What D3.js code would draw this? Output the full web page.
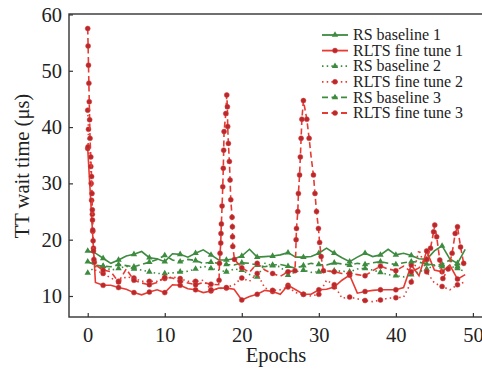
<!DOCTYPE html>
<html>
<head>
<meta charset="utf-8">
<script src="https://cdnjs.cloudflare.com/ajax/libs/d3/7.8.5/d3.min.js"></script>
<style>
    body { margin: 0; background: #fff; }
    text { font-family: "Liberation Serif", "Times New Roman", serif; fill: #222; }
</style>
</head>
<body>
<div id="chartDiv"></div>
<script>
// values, [epoch, wait time in us]
var rsBaseline1 = [[0,18.0],[1,17.6],[2,16.7],[3,15.8],[4,16.4],[5,17.1],[6,17.4],[7,17.9],[8,16.8],[9,16.6],
    [10,16.1],[11,17.5],[12,17.4],[13,16.9],[14,17.6],[15,18.2],[16,17.3],[17,16.4],[18,16.4],[19,16.6],
    [20,17.1],[21,18.3],[22,16.9],[23,17.0],[24,17.1],[25,17.3],[26,17.7],[27,16.9],[28,16.9],[29,17.0],
    [30,17.6],[31,18.5],[32,17.6],[33,16.8],[34,16.1],[35,16.9],[36,17.6],[37,17.0],[38,17.3],[39,18.3],
    [40,17.3],[41,17.6],[42,17.2],[43,16.6],[44,16.5],[45,18.0],[46,18.9],[47,16.6],[48,15.8],[49,18.3]];

var rltsFineTune1 = [[0,36.2],[1,12.4],[2,11.9],[3,11.9],[4,11.5],[5,11.2],[6,10.6],[7,10.2],[8,10.7],[9,11.1],
    [10,10.6],[11,12.0],[12,11.9],[13,11.3],[14,11.1],[15,10.6],[16,10.9],[17,11.4],[18,11.4],[19,11.2],
    [20,9.3],[21,9.9],[22,10.3],[23,11.0],[24,10.8],[25,10.3],[26,11.9],[27,11.1],[28,10.3],[29,10.3],
    [30,11.1],[31,11.2],[32,11.6],[33,12.8],[34,13.7],[35,10.5],[36,10.8],[37,11.0],[38,11.1],[39,11.1],
    [40,11.1],[41,11.5],[42,15.5],[43,13.6],[44,18.0],[45,14.6],[46,14.3],[47,15.5],[48,13.0],[49,13.8]];

var rsBaseline2 = [[0,14.1],[1,15.2],[2,15.3],[3,14.6],[4,14.9],[5,15.3],[6,14.8],[7,14.6],[8,14.3],[9,14.0],
    [10,14.0],[11,14.1],[12,14.3],[13,14.4],[14,14.8],[15,15.3],[16,14.9],[17,14.6],[18,14.3],[19,14.8],
    [20,14.6],[21,13.8],[22,13.4],[23,15.8],[24,15.4],[25,15.2],[26,13.7],[27,14.3],[28,14.6],[29,14.2],
    [30,14.3],[31,14.3],[32,14.5],[33,14.4],[34,14.3],[35,14.8],[36,14.9],[37,14.6],[38,14.2],[39,13.8],
    [40,13.6],[41,13.4],[42,13.8],[43,14.3],[44,14.8],[45,15.4],[46,15.2],[47,15.3],[48,14.9],[49,14.3]];

var rltsFineTune2 = [[0,43.0],[0.1,39.6],[0.05,36.5],[0.4,33.0],[0.45,30.0],[0.5,27.0],[0.6,24.5],[0.65,21.5],[0.75,18.5],[0.85,16.0],
    [1,14.6],[2,14.0],[3,13.2],[4,12.6],[5,13.4],[6,13.2],[7,12.6],[8,12.6],[9,12.6],
    [10,13.1],[11,13.4],[12,13.1],[13,12.6],[14,12.6],[15,12.8],[16,11.1],[17,11.3],[18,11.5],[19,12.0],
    [20,13.2],[21,12.6],[22,14.0],[23,11.4],[24,11.0],[25,11.1],[26,11.6],[27,10.6],[28,10.3],[29,10.0],
    [30,10.3],[31,12.8],[32,12.0],[33,9.6],[34,9.8],[35,9.5],[36,9.2],[37,9.0],[38,9.3],[39,9.6],
    [40,9.7],[41,9.8],[42,12.5],[43,18.2],[44,14.3],[45,12.3],[46,11.7],[47,11.1],[48,12.0],[49,12.5]];

var rsBaseline3 = [[0,16.1],[1,15.5],[2,15.3],[3,15.2],[4,15.6],[5,15.4],[6,15.2],[7,15.6],[8,16.0],[9,16.5],
    [10,17.2],[11,16.4],[12,16.1],[13,16.5],[14,16.3],[15,15.8],[16,16.0],[17,15.8],[18,15.6],[19,15.5],
    [20,15.9],[21,15.8],[22,15.5],[23,15.2],[24,15.5],[25,15.6],[26,15.3],[27,14.9],[28,15.4],[29,15.8],
    [30,15.6],[31,15.5],[32,15.9],[33,15.7],[34,15.5],[35,15.8],[36,15.6],[37,15.9],[38,16.1],[39,15.8],
    [40,15.6],[41,15.9],[42,16.1],[43,16.0],[44,15.7],[45,15.5],[46,15.6],[47,16.4],[48,15.2],[49,15.6]];

var rltsFineTune3 = [[0,57.5],[0.05,54.4],[0.1,51.0],[0.15,47.8],[0.2,44.5],[0.25,41.3],[0.3,38.0],[0.4,34.7],[0.5,31.2],[0.55,28.2],
    [0.6,25.3],[0.62,23.5],[0.65,21.7],[0.7,19.8],[0.75,18.0],[0.8,16.5],
    [1,15.5],[2,14.6],[3,14.3],[4,12.5],[5,14.8],[6,12.8],[7,12.3],[8,12.0],[9,12.4],
    [10,13.3],[11,13.2],[12,12.6],[13,12.3],[14,12.0],[15,12.4],[16,12.1],[17,12.0],
    [17.05,12.8],[17.1,15.8],[17.18,17.6],[17.27,19.4],[17.3,21.1],[17.35,22.8],[17.44,26.0],[17.53,29.4],
    [17.6,32.7],[17.65,35.9],[17.7,39.2],[17.92,42.4],[18.05,45.7],
    [18.13,43.6],[18.17,40.1],[18.26,37.1],[18.39,33.9],[18.48,30.6],[18.57,27.1],[18.74,24.0],
    [18.78,22.3],[18.8,20.5],[18.83,18.8],[19.05,16.5],
    [20,15.0],[21,14.2],[22,15.8],[23,14.6],[24,14.0],[25,13.5],[26,14.3],
    [26.9,14.5],[27.0,17.5],[27.05,20.0],[27.1,22.0],[27.27,25.0],[27.35,28.2],[27.5,31.5],[27.6,34.7],
    [27.7,38.0],[27.8,41.4],[28.0,44.7],
    [28.44,41.4],[28.74,38.0],[29.0,34.7],[29.3,31.5],[29.5,28.2],[29.7,25.0],[29.95,22.0],
    [30.1,19.5],[30.3,17.0],[30.6,14.5],
    [32,14.3],[33,14.0],[34,14.0],[35,13.8],[36,13.6],[37,14.5],[38,15.3],[39,14.8],
    [40,14.5],[41,15.3],[42,14.3],[43,15.0],[44,16.5],
    [44.5,18.5],[44.9,21.4],[45.05,22.6],[45.3,20.5],[45.7,16.4],[46.1,13.1],[46.8,14.8],
    [47.3,17.6],[47.7,21.1],[48.0,22.3],[48.4,18.7],[48.8,15.8]];

var seriesNames = ["RS baseline 1", "RLTS fine tune 1", "RS baseline 2", "RLTS fine tune 2", "RS baseline 3", "RLTS fine tune 3"];
var seriesData = [rsBaseline1, rltsFineTune1, rsBaseline2, rltsFineTune2, rsBaseline3, rltsFineTune3];
var xTicks = [0, 10, 20, 30, 40, 50];
var yTicks = [10, 20, 30, 40, 50, 60];

var green = "#3d8b3f", red = "#e63a32", dotRed = "#b8282c";
var styles = [
    {color: green, dash: null, marker: "tri"},
    {color: red, dash: null, marker: "dot"},
    {color: green, dash: "1.5,3.2", marker: "tri"},
    {color: red, dash: "1.5,3.2", marker: "dot"},
    {color: green, dash: "6,3.5", marker: "tri"},
    {color: red, dash: "6,3.5", marker: "dot"}
];

var width = 482, height = 372;
var plot = {left: 69, right: 486, top: 14, bottom: 317};

var svg = d3.select("#chartDiv")
    .append("svg")
    .attr("width", width)
    .attr("height", height);

var x = d3.scaleLinear().domain([-2.43, 51.7]).range([plot.left, plot.right]);
var y = d3.scaleLinear().domain([6.27, 60.08]).range([plot.bottom, plot.top]);

svg.append("clipPath").attr("id", "clip")
    .append("rect")
    .attr("x", plot.left).attr("y", plot.top)
    .attr("width", plot.right - plot.left).attr("height", plot.bottom - plot.top);

// axes, ticks point inwards
var xAxis = svg.append("g")
    .attr("transform", "translate(0," + plot.bottom + ")")
    .call(d3.axisBottom(x).tickValues(xTicks).tickSize(-4).tickPadding(10).tickSizeOuter(0));
var yAxis = svg.append("g")
    .attr("transform", "translate(" + plot.left + ",0)")
    .call(d3.axisLeft(y).tickValues(yTicks).tickSize(-4).tickPadding(7).tickSizeOuter(0));
[xAxis, yAxis].forEach(function (ax) {
    ax.select(".domain").remove();
    ax.selectAll("line").attr("stroke", "#333").attr("stroke-width", 1.2);
    ax.selectAll("text").attr("font-size", "20.5px").attr("font-family", "Liberation Serif").attr("fill", "#222");
});

// frame
svg.append("rect")
    .attr("x", plot.left).attr("y", plot.top)
    .attr("width", plot.right - plot.left).attr("height", plot.bottom - plot.top)
    .attr("fill", "none").attr("stroke", "#333").attr("stroke-width", 1.4);

var line = d3.line()
    .x(function (d) { return x(d[0]); })
    .y(function (d) { return y(d[1]); });

var tri = d3.symbol().type(d3.symbolTriangle).size(18);

function drawMarker(g, style, cx, cy) {
    if (style.marker === "dot") {
        g.append("circle").attr("cx", cx).attr("cy", cy).attr("r", 2.5)
            .attr("fill", dotRed).attr("stroke", "#d9443c").attr("stroke-width", 0.5);
    } else {
        g.append("path").attr("d", tri).attr("transform", "translate(" + cx + "," + cy + ")")
            .attr("fill", green);
    }
}

var series = svg.append("g").attr("clip-path", "url(#clip)");
seriesData.forEach(function (data, i) {
    var st = styles[i];
    var g = series.append("g");
    g.append("path")
        .datum(data)
        .attr("d", line)
        .attr("fill", "none")
        .attr("stroke", st.color)
        .attr("stroke-width", 1.6)
        .attr("stroke-dasharray", st.dash);
    // marker on every other epoch, and on every in-between reading
    data.forEach(function (d) {
        if (d[0] % 1 !== 0 || d[0] % 2 === 0) drawMarker(g, st, x(d[0]), y(d[1]));
    });
});

// legend
var legend = svg.append("g");
seriesNames.forEach(function (name, i) {
    var st = styles[i];
    var ly = 35 + i * 15.6;
    legend.append("line")
        .attr("x1", 322).attr("x2", 348).attr("y1", ly).attr("y2", ly)
        .attr("stroke", st.color).attr("stroke-width", 1.8)
        .attr("stroke-dasharray", st.dash);
    drawMarker(legend, st, 335, ly);
    legend.append("text")
        .attr("x", 353).attr("y", ly + 5.2)
        .attr("font-size", "16px")
        .text(name);
});

svg.append("text")
    .attr("x", 276).attr("y", 362)
    .attr("text-anchor", "middle")
    .attr("font-size", "20.5px")
    .text("Epochs");

svg.append("text")
    .attr("transform", "translate(29,166) rotate(-90)")
    .attr("text-anchor", "middle")
    .attr("font-size", "20.5px")
    .text("TT wait time (μs)");
</script>
</body>
</html>
